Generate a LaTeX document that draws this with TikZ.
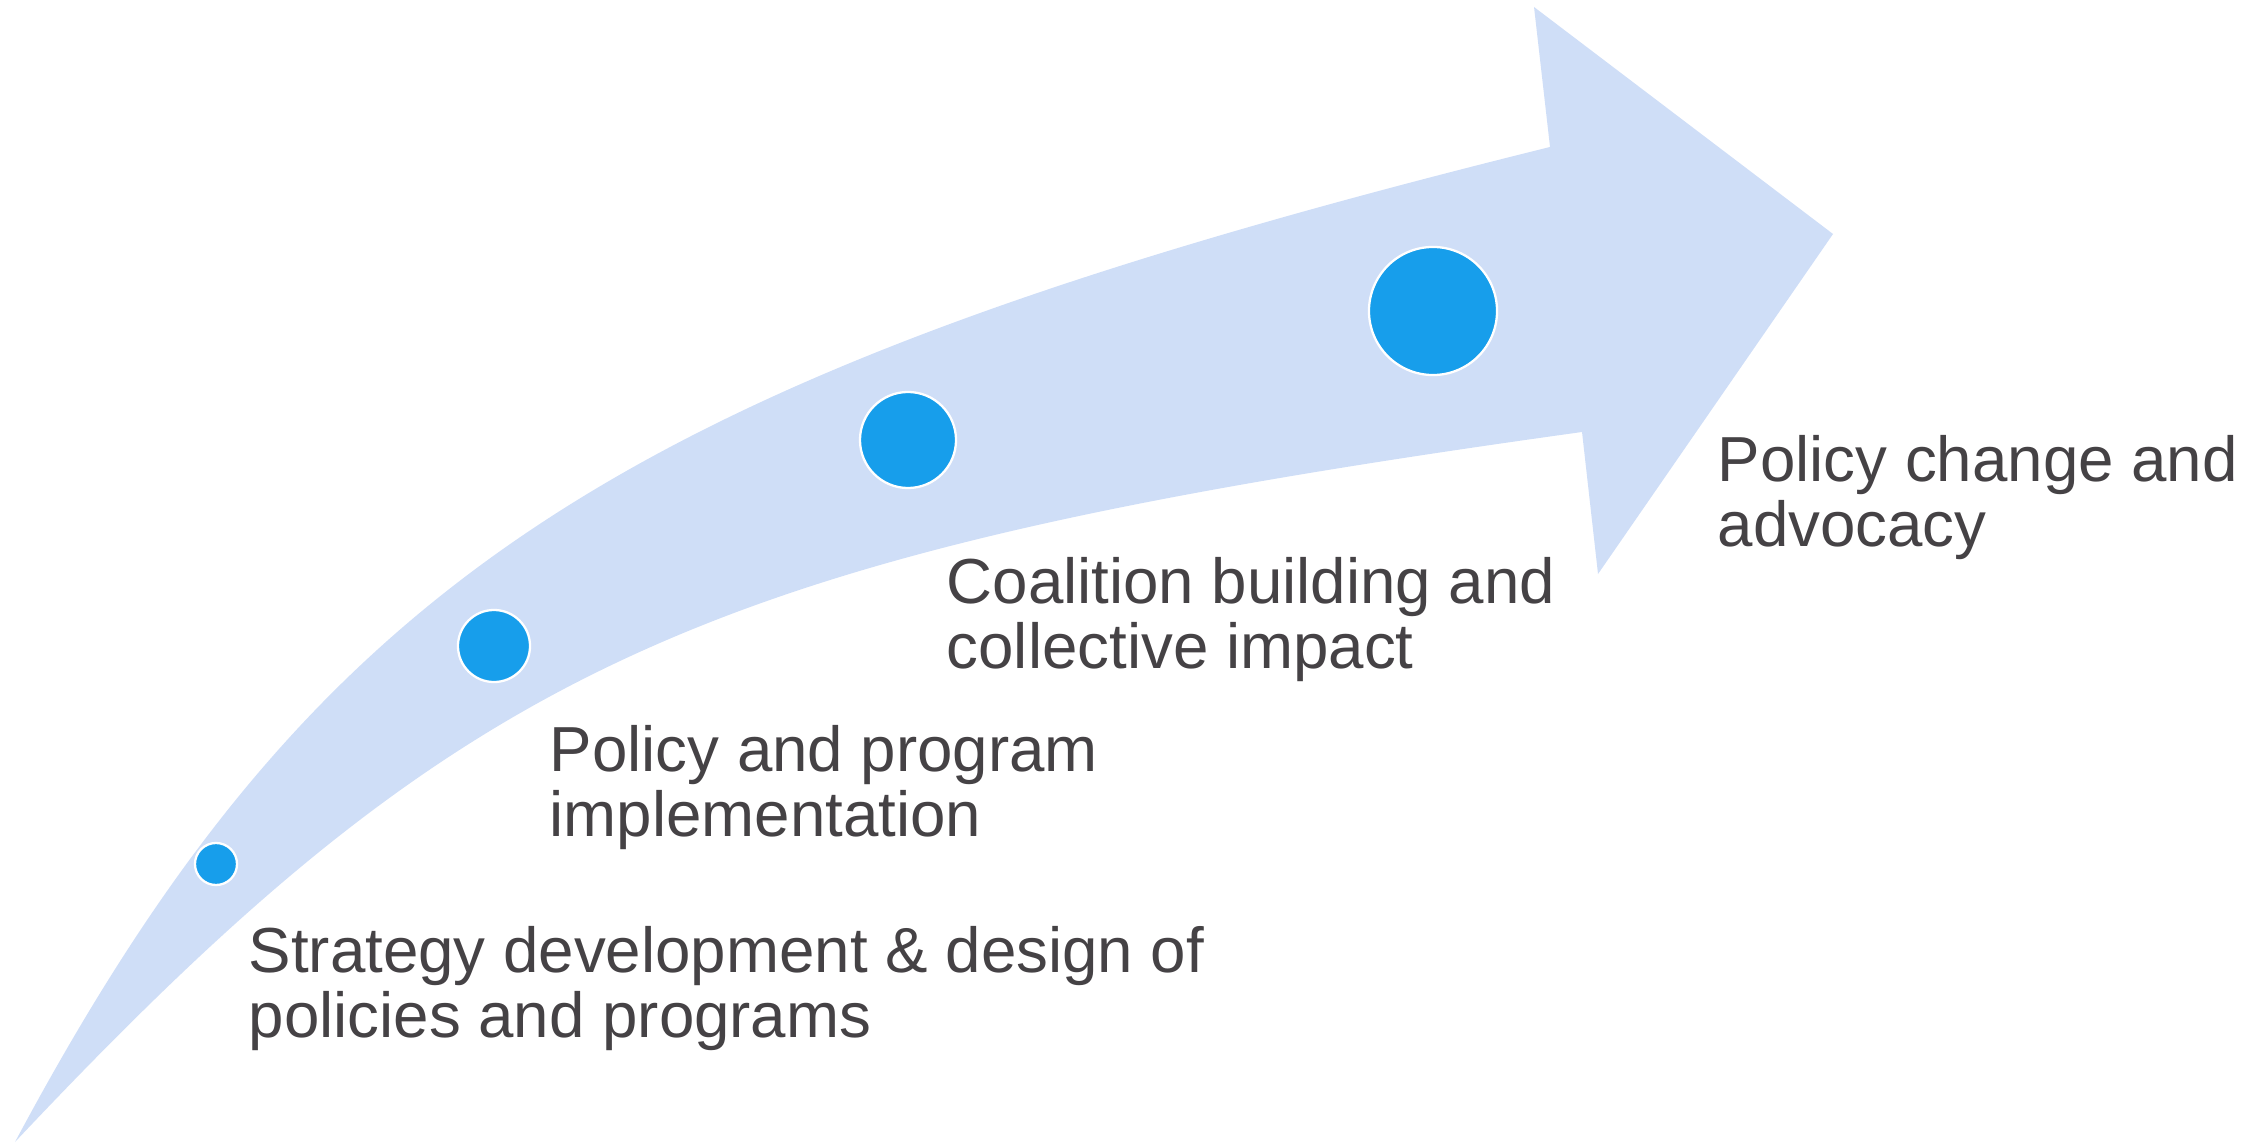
\documentclass[tikz,border=0pt]{standalone}
\usepackage{fontspec}
\setmainfont{Liberation Sans}
\usepackage{tikz}
\usetikzlibrary{arrows}
\definecolor{ccddff}{rgb}{0.81,0.87,0.97}
\definecolor{qqaaee}{rgb}{0.09,0.62,0.92}
\definecolor{ddddee}{rgb}{0.27,0.26,0.27}

\begin{document}
\begin{tikzpicture}[line cap=round,line join=round,x=0.01cm,y=-0.01cm,
    stage/.style={circle,fill=qqaaee,draw=white,line width=0.65pt,inner sep=0pt},
    stagetext/.style={anchor=base west,align=left,inner sep=0pt,text=ddddee,
      font=\fontsize{18.1}{18.4}\selectfont}]
	\useasboundingbox (0,0) rectangle (2267,1143);
	% curved band with its head
	\fill [ccddff] (15,1142) .. controls (318,575) and (625,376) .. (1550,147)
	  -- (1534,7) -- (1833,234) -- (1598,574) -- (1582,432)
	  .. controls (704,554) and (469,660) .. (15,1142) -- cycle;
	% stages
	\node [stage,minimum size=0.42cm] (s1) at (216,864) {};
	\node [stage,minimum size=0.72cm] (s2) at (494,646) {};
	\node [stage,minimum size=0.96cm] (s3) at (908,440) {};
	\node [stage,minimum size=1.28cm] (s4) at (1433,311) {};
	\node [stagetext] (t1) at (248,1037) {Strategy development \& design of\\policies and programs};
	\node [stagetext] (t2) at (549,836) {Policy and program\\implementation};
	\node [stagetext] (t3) at (946,668) {Coalition building and\\collective impact};
	\node [stagetext] (t4) at (1717,546) {Policy change and\\advocacy};
\end{tikzpicture}
\end{document}
